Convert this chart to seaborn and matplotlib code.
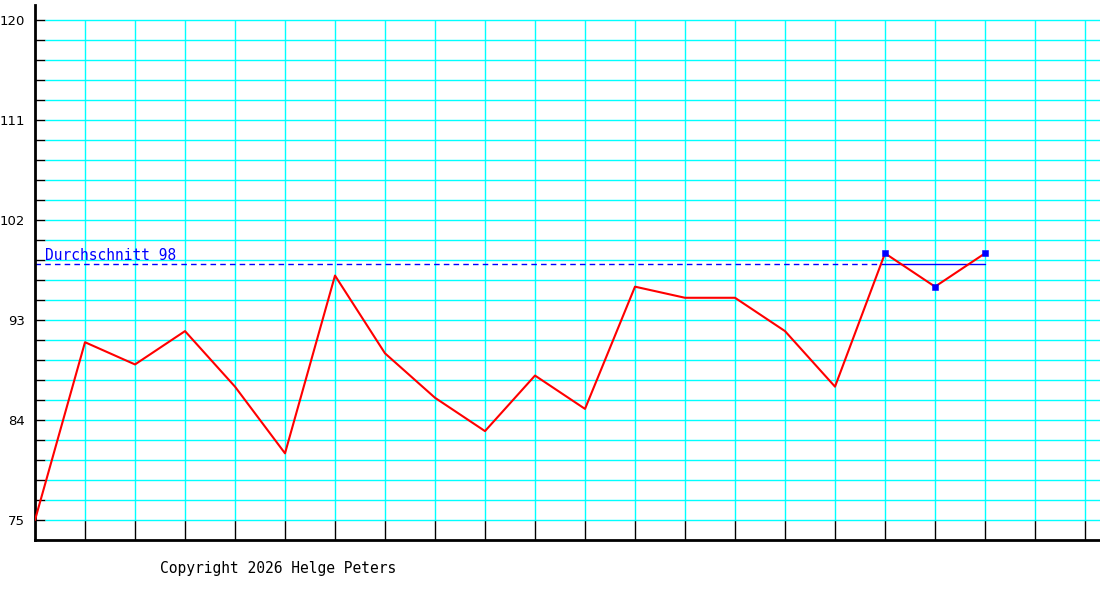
import numpy as np
import pandas as pd
import matplotlib
matplotlib.use("Agg")
import matplotlib.pyplot as plt
import seaborn as sns

# Messwerte (Index 0..19)
werte = [75, 91, 89, 92, 87, 81, 97, 90, 86, 83, 88, 85, 96, 95, 95, 92, 87, 99, 96, 99]
# die letzten drei Werte gehen in den Durchschnitt ein
anz_schnitt = 3
y_min, y_max = 75, 120
y_labels = [75, 84, 93, 102, 111, 120]
n_spalten = 21

sns.set_style("white")
plt.rcParams['font.family'] = ['DejaVu Sans']

df = pd.DataFrame({'x': np.arange(len(werte)), 'wert': werte})
letzte = df.tail(anz_schnitt)
schnitt = round(letzte['wert'].mean())

fig = plt.figure(figsize=(11, 6), dpi=100)
ax = fig.add_axes([35/1100, 60/600, 1065/1100, 535/600])

step = (y_max - y_min) / 25
ax.set_ylim(y_min - step, y_max + 0.75 * step)
ax.set_xlim(0, 1065 / 50)

# Gitter (beginnt rechts neben den Strichen der y-Achse)
hgrid = y_min + step * np.arange(26)
ax.hlines(hgrid, 0.2, 1065 / 50, color='#00ffff', lw=1.0, zorder=1)
ax.vlines(np.arange(1, n_spalten + 1), y_min, y_max, color='#00ffff', lw=1.0, zorder=1)

# Durchschnitt
x0 = letzte['x'].iloc[0]
x1 = letzte['x'].iloc[-1]
ax.plot([0, x0], [schnitt, schnitt], color='#0000ff', lw=1.0, ls=(0, (4, 3)), zorder=2)
ax.plot([x0, x1], [schnitt, schnitt], color='#0000ff', lw=1.0, zorder=2)
ax.text(0.2, schnitt + 0.1, f"Durchschnitt {schnitt}", color='#0000ff',
        fontsize=10.5, family='DejaVu Sans Mono', va='bottom', ha='left')

sns.lineplot(data=df, x='x', y='wert', color='#ff0000', lw=1.5, ax=ax, zorder=3)
sns.scatterplot(data=letzte, x='x', y='wert', color='#0000ff', marker='s', s=22,
                edgecolor='#0000ff', ax=ax, zorder=4)

# Achsen
ax.set_xlabel('')
ax.set_ylabel('')
ax.set_xticks(np.arange(1, n_spalten + 1))
ax.set_xticklabels([])
ax.set_yticks(hgrid)
ax.set_yticklabels([f"{int(round(v))}" if int(round(v)) in y_labels and abs(v - round(v)) < 1e-6 else ''
                    for v in hgrid])
ax.tick_params(axis='y', direction='in', length=7.2, width=1, color='black',
               labelsize=9.5, labelcolor='black', pad=7, left=True)
ax.tick_params(axis='x', direction='in', length=14.4, width=1, color='black', bottom=True)
for s in ['top', 'right']:
    ax.spines[s].set_visible(False)
for s in ['left', 'bottom']:
    ax.spines[s].set_color('black')
    ax.spines[s].set_linewidth(2)
ax.set_facecolor('white')

fig.text(160 / 1100, 1 - 568 / 600, "Copyright 2026 Helge Peters", family='DejaVu Sans Mono',
         fontsize=10.5, va='center', ha='left', color='black')

fig.savefig('out.png', dpi=100)
